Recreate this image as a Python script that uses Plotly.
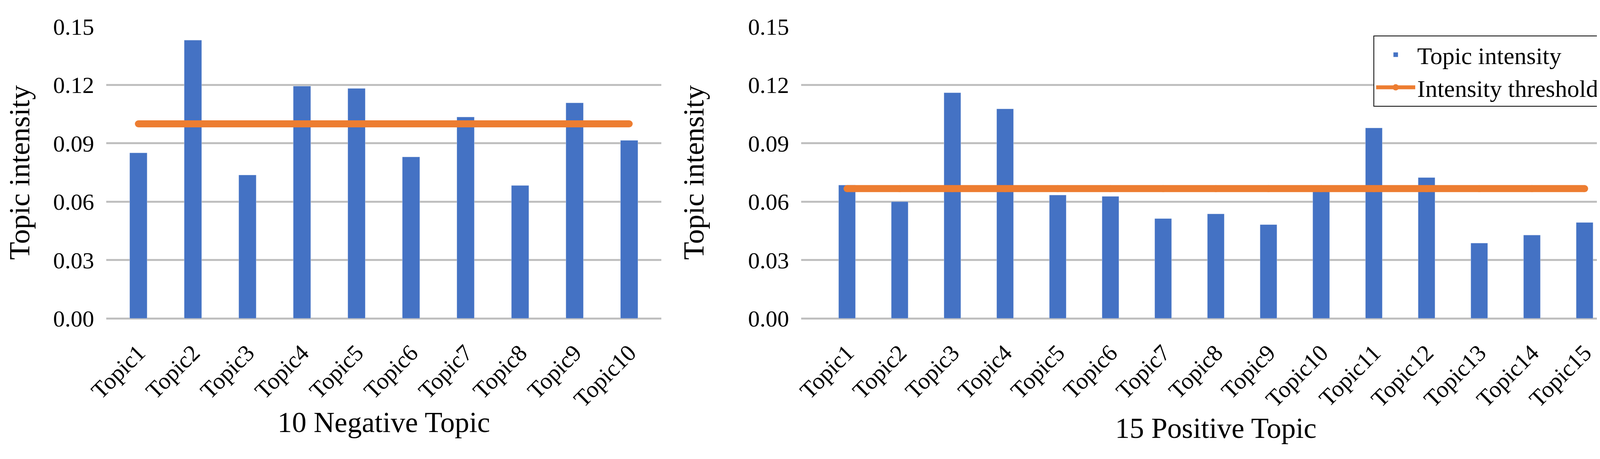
import plotly.graph_objects as go

neg_topics = ["Topic1", "Topic2", "Topic3", "Topic4", "Topic5", "Topic6", "Topic7", "Topic8", "Topic9", "Topic10"]
neg_values = [0.0851, 0.1430, 0.0737, 0.1194, 0.1182, 0.0830, 0.1035, 0.0683, 0.1108, 0.0915]
neg_threshold = 0.10

pos_topics = ["Topic1", "Topic2", "Topic3", "Topic4", "Topic5", "Topic6", "Topic7", "Topic8",
              "Topic9", "Topic10", "Topic11", "Topic12", "Topic13", "Topic14", "Topic15"]
pos_values = [0.0685, 0.0600, 0.1160, 0.1077, 0.0634, 0.0627, 0.0513, 0.0537,
              0.0482, 0.0660, 0.0979, 0.0724, 0.0387, 0.0428, 0.0493]
pos_threshold = 0.0667

y_ticks = [0.00, 0.03, 0.06, 0.09, 0.12, 0.15]
y_tick_text = ["0.00", "0.03", "0.06", "0.09", "0.12", "0.15"]

BLUE = "#4472C4"
ORANGE = "#ED7D31"
GRID = "#BFBFBF"
FONT = "Liberation Serif"

fig = go.Figure()

line_style = dict(color=ORANGE, width=18)
marker_style = dict(color=ORANGE, size=18, line=dict(width=0))

# left chart
fig.add_trace(go.Bar(x=neg_topics, y=neg_values, marker_color=BLUE, width=0.32,
                     name="Topic intensity", showlegend=False, xaxis="x", yaxis="y"))
fig.add_trace(go.Scatter(x=neg_topics, y=[neg_threshold] * len(neg_topics), mode="lines+markers",
                         line=line_style, marker=marker_style,
                         name="Intensity threshold", showlegend=False, xaxis="x", yaxis="y"))
# right chart
fig.add_trace(go.Bar(x=pos_topics, y=pos_values, marker_color=BLUE, width=0.32,
                     name="Topic intensity", showlegend=True, xaxis="x2", yaxis="y2"))
fig.add_trace(go.Scatter(x=pos_topics, y=[pos_threshold] * len(pos_topics), mode="lines+markers",
                         line=line_style, marker=marker_style,
                         name="Intensity threshold", showlegend=True, xaxis="x2", yaxis="y2"))

# page body has an 8px margin, so the figure is sized to fit the 4200x1175 window
W, H = 4192, 1167
ml, mr, mt, mb = 264, 26, 60, 360
pw = W - ml - mr

xcommon = dict(type="category", tickangle=-45, showgrid=False, showline=False, zeroline=False,
               ticks="", tickfont=dict(size=60, color="black", family=FONT), automargin=False,
               ticklabelstandoff=40, fixedrange=True)
ycommon = dict(range=[0, 0.15], tickvals=y_ticks, ticktext=y_tick_text, showgrid=True,
               gridcolor=GRID, gridwidth=5, zeroline=True, zerolinecolor=GRID, zerolinewidth=5,
               showline=False, ticks="", tickfont=dict(size=60, color="black", family=FONT),
               automargin=False, ticklabelstandoff=30, fixedrange=True)

fig.update_layout(
    width=W, height=H,
    margin=dict(l=ml, r=mr, t=mt, b=mb, autoexpand=False),
    paper_bgcolor="white", plot_bgcolor="white",
    font=dict(family=FONT, color="black"),
    xaxis=dict(domain=[0, (1685 - ml) / pw], anchor="y",
               title=dict(text="10 Negative Topic", font=dict(size=74, family=FONT), standoff=0),
               **xcommon),
    yaxis=dict(domain=[0, 1], anchor="x",
               title=dict(text="Topic intensity", font=dict(size=75, family=FONT), standoff=39),
               **ycommon),
    xaxis2=dict(domain=[(2043 - ml) / pw, 1], anchor="y2",
                title=dict(text="15 Positive Topic", font=dict(size=74, family=FONT), standoff=0),
                **xcommon),
    yaxis2=dict(domain=[0, 1], anchor="x2",
                title=dict(text="Topic intensity", font=dict(size=75, family=FONT), standoff=88),
                **ycommon),
    legend=dict(x=(3508 - ml) / pw, xanchor="left", y=0.969, yanchor="top", bgcolor="white",
                bordercolor="black", borderwidth=2, font=dict(size=62, family=FONT),
                tracegroupgap=0, itemwidth=100, entrywidth=600, entrywidthmode="pixels"),
)

fig.write_html("out.html")
